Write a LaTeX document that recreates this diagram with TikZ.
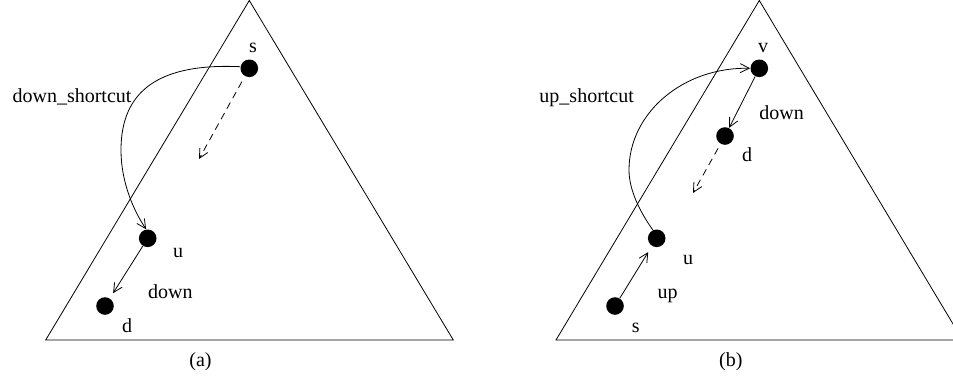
\documentclass[tikz,border=0pt]{standalone}
\usepackage{fontspec}
\setmainfont{Liberation Serif}
\usetikzlibrary{arrows.meta}
\begin{document}
\begin{tikzpicture}[x=1pt,y=-1pt,line width=0.8pt,
  dot/.style={circle,fill=black,inner sep=0pt,minimum size=17.6pt},
  lbl/.style={anchor=base,inner sep=0pt,font=\fontsize{20}{24}\selectfont},
  arr/.style={-{Straight Barb[length=9pt,width=9pt,line width=0.8pt]}},
  dsh/.style={arr,dash pattern=on 7pt off 5pt}]
\useasboundingbox (0,0) rectangle (953,381);
\clip (0,0) rectangle (953,381);
% ---------- (a) ----------
\draw (249.3,0.5) -- (45.7,340) -- (453.3,340) -- cycle;
\node[dot] (sa) at (249.3,68.3) {};
\node[dot] (ua) at (147.7,238.3) {};
\node[dot] (da) at (105,306) {};
\coordinate (wa) at (121,150);
\coordinate (ea) at (199,159);
\node[lbl] (lsa) at (253,52) {s};
\node[lbl] (lua) at (178,257) {u};
\node[lbl] (lda) at (127,332) {d};
\node[lbl] (ldowna) at (170.4,298) {down};
\node[lbl] (lsc) at (72,102.7) {down\_shortcut};
\node[lbl] (capa) at (200.5,366.7) {(a)};
\draw[arr] (sa.170) .. controls (160,63) and (121,90) .. (wa)
  .. controls (121,180) and (132,208) .. (ua.100);
\draw[arr,shorten >=6pt] (ua) -- (da);
\draw[dsh,shorten <=6pt] (sa) -- (ea);
% ---------- (b) ----------
\draw (759.3,0.5) -- (556,340) -- (962.6,340) -- cycle;
\node[dot] (vb) at (759.3,68.3) {};
\node[dot] (db) at (725,136) {};
\node[dot] (ub) at (656.7,238.3) {};
\node[dot] (sb) at (615,306) {};
\coordinate (wb) at (629,170);
\coordinate (eb) at (693,193);
\node[lbl] (lvb) at (763,52) {v};
\node[lbl] (ldownb) at (781.7,119.3) {down};
\node[lbl] (ldb) at (747,161.7) {d};
\node[lbl] (lub) at (688,264) {u};
\node[lbl] (lupb) at (667.5,298) {up};
\node[lbl] (lsb) at (635.7,332.3) {s};
\node[lbl] (lusc) at (586.7,102.7) {up\_shortcut};
\node[lbl] (capb) at (730.8,366.7) {(b)};
\draw[arr] (ub.115) .. controls (640,212) and (629,190) .. (wb)
  .. controls (629,113) and (683,67) .. (vb.west);
\draw[arr] (vb) -- (db);
\draw[dsh,shorten <=5pt] (db) -- (eb);
\draw[arr,shorten >=7pt] (sb) -- (ub);
\end{tikzpicture}
\end{document}
